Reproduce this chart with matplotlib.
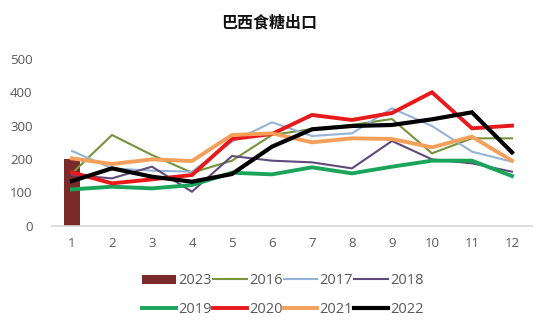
import matplotlib
matplotlib.use("Agg")
import matplotlib.pyplot as plt
from matplotlib.patches import Patch
from matplotlib.lines import Line2D

plt.rcParams['font.family'] = ['Noto Sans CJK SC', 'DejaVu Sans']

months = [str(i) for i in range(1, 13)]
v2023 = [200]
v2016 = [157, 272, 212, 159, 195, 272, 290, 302, 320, 217, 262, 262]
v2017 = [224, 172, 165, 162, 252, 310, 269, 277, 352, 299, 222, 192]
v2018 = [152, 142, 177, 102, 209, 195, 190, 172, 254, 199, 187, 162]
v2019 = [109, 117, 112, 122, 159, 154, 175, 157, 177, 195, 195, 149]
v2020 = [160, 127, 139, 152, 260, 275, 332, 317, 338, 400, 292, 300]
v2021 = [202, 185, 199, 194, 272, 277, 250, 262, 260, 235, 267, 195]
v2022 = [134, 172, 147, 132, 155, 237, 289, 299, 302, 319, 340, 220]

fig = plt.figure(figsize=(5.5, 3.31), dpi=100)
ax = fig.add_axes([0.0945, 0.318, 0.8727, 0.504])

x = list(range(12))
ax.bar(x[:len(v2023)], v2023, width=0.4, color='#7B2A2A', zorder=1)

thin = 1.5
thick = 2.8
series = [
    ('2016', v2016, '#77933C', thin),
    ('2017', v2017, '#95B3D7', thin),
    ('2018', v2018, '#604A7B', thin),
    ('2019', v2019, '#1AA55A', thick),
    ('2020', v2020, '#E8191B', thick),
    ('2021', v2021, '#F4A05A', thick),
    ('2022', v2022, '#000000', 3.0),
]
for name, vals, col, lw in series:
    ax.plot(x, vals, color=col, lw=lw, zorder=2, solid_joinstyle='miter')

ax.set_xlim(-0.5, 11.5)
ax.set_ylim(0, 500)
ax.set_yticks([0, 100, 200, 300, 400, 500])
ax.set_xticks(x)
ax.set_xticklabels(months)
ax.tick_params(axis='both', length=0, labelsize=9.5, colors='#595959')
ax.tick_params(axis='x', pad=8)
ax.tick_params(axis='y', pad=14)
for lbl in ax.get_yticklabels() + ax.get_xticklabels():
    lbl.set_fontfamily(['Open Sans', 'DejaVu Sans'])
for s in ['top', 'right', 'left']:
    ax.spines[s].set_visible(False)
ax.spines['bottom'].set_color('#D9D9D9')
ax.spines['bottom'].set_linewidth(1.2)

fig.text(0.49, 0.933, '巴西食糖出口', ha='center', va='center', fontsize=11.5,
         fontweight='bold', color='#111111')

handles = [Patch(facecolor='#7B2A2A', edgecolor='none', label='2023')]
for name, vals, col, lw in series:
    handles.append(Line2D([0], [0], color=col, lw=lw, label=name))
# matplotlib fills legend column by column; reorder so rows read left to right
order = [0, 4, 1, 5, 2, 6, 3, 7]
handles = [handles[i] for i in order]
leg = fig.legend(handles=handles, ncol=4, loc='center left',
                 bbox_to_anchor=(0.235, 0.108), frameon=False,
                 handlelength=2.3, handleheight=0.6,
                 handletextpad=0.15, columnspacing=0.1, labelspacing=0.95,
                 prop={'family': ['Open Sans', 'DejaVu Sans'], 'size': 10.5})
for t in leg.get_texts():
    t.set_color('#595959')

fig.savefig('out.png', dpi=100)
